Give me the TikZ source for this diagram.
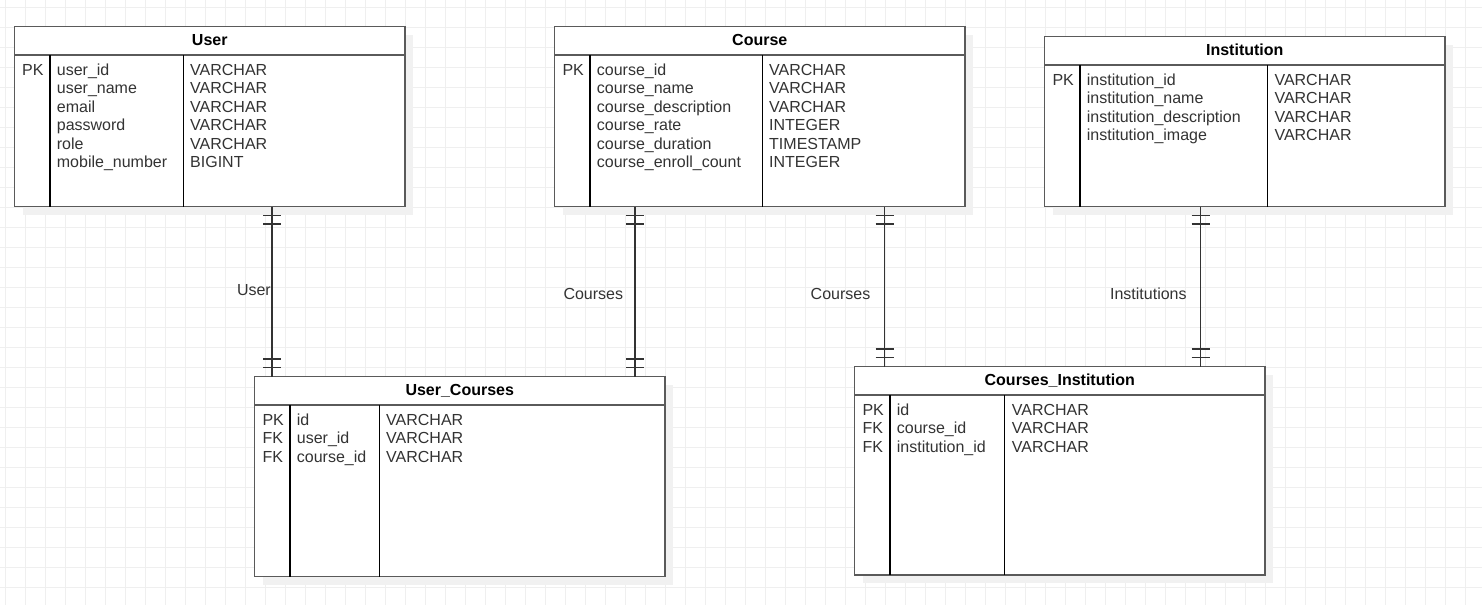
\documentclass[tikz,border=0pt]{standalone}
\usepackage{fontspec}
\setmainfont{Liberation Sans}
\usetikzlibrary{decorations.markings,shadows}
\definecolor{edgegray}{HTML}{5A5A5A}
\definecolor{ink}{HTML}{333333}
\definecolor{gridgray}{HTML}{EFEFEF}
\definecolor{shadegray}{HTML}{F1F1F1}

\begin{document}
\begin{tikzpicture}[x=1pt, y=-1pt,
  tbl/.style={draw=edgegray, line width=1.6pt, fill=white, inner sep=0pt, outer sep=0pt, anchor=north west,
    drop shadow={shadow xshift=8pt, shadow yshift=-8pt, fill=shadegray, opacity=1}},
  head/.style={inner sep=0pt, anchor=base, font=\fontsize{16}{18.5}\selectfont\bfseries},
  field/.style={inner sep=0pt, anchor=base west, text=ink, font=\fontsize{16}{18.5}\selectfont},
  lbl/.style={inner sep=0pt, anchor=base east, text=ink, font=\fontsize{16}{18.5}\selectfont},
  hline/.style={draw=edgegray, line width=1.4pt},
  cline/.style={draw=black, line width=1.1pt},
  gridln/.style={draw=gridgray, line width=1pt},
  rel/.style={draw=ink, line width=1.4pt, postaction={decorate}, decoration={markings,
    mark=at position 9pt with {\draw[line width=1.3pt] (0,-9pt) -- (0,9pt);},
    mark=at position 17.5pt with {\draw[line width=1.3pt] (0,-9pt) -- (0,9pt);},
    mark=at position -9pt with {\draw[line width=1.3pt] (0,-9pt) -- (0,9pt);},
    mark=at position -17.5pt with {\draw[line width=1.3pt] (0,-9pt) -- (0,9pt);}}}]
\useasboundingbox (0,0) rectangle (1482,605);

%grade
\fill[white] (0,0) rectangle (1482,605);
\foreach \gx in {5,25,...,1485} \draw[gridln] (\gx,0) -- (\gx,605);
\foreach \gy in {7,27,...,607} \draw[gridln] (0,\gy) -- (1482,\gy);

%User
\node[tbl, minimum width=390.5pt, minimum height=180pt] (usr) at (14.5,26.5) {};
\node[head] (usrh) at (209.75,45.3) {User};
\draw[hline] (usr.west |- 0,55) -- (usr.east |- 0,55);
\draw[cline] (50,55) -- (50,206.5);
\draw[cline] (183.5,55) -- (183.5,206.5);
\node[field] (usrk) at (22,75) {PK};
\foreach \nm/\ty [count=\i from 0] in {user\_id/VARCHAR, user\_name/VARCHAR, email/VARCHAR,
    password/VARCHAR, role/VARCHAR, mobile\_number/BIGINT}{
  \node[field] (usrn\i) at (56.7,75+18.5*\i) {\nm};
  \node[field] (usrt\i) at (190,75+18.5*\i) {\ty};
}

%Course
\node[tbl, minimum width=410.5pt, minimum height=180pt] (crs) at (554.5,26.5) {};
\node[head] (crsh) at (759.75,45.5) {Course};
\draw[hline] (crs.west |- 0,55) -- (crs.east |- 0,55);
\draw[cline] (590,55) -- (590,206.5);
\draw[cline] (762.3,55) -- (762.3,206.5);
\node[field] (crsk) at (562.3,75) {PK};
\foreach \nm/\ty [count=\i from 0] in {course\_id/VARCHAR, course\_name/VARCHAR,
    course\_description/VARCHAR, course\_rate/INTEGER, course\_duration/TIMESTAMP,
    course\_enroll\_count/INTEGER}{
  \node[field] (crsn\i) at (596.7,75+18.5*\i) {\nm};
  \node[field] (crst\i) at (769,75+18.5*\i) {\ty};
}

%Institution
\node[tbl, minimum width=400.5pt, minimum height=170pt] (ins) at (1044.5,36.5) {};
\node[head] (insh) at (1244.75,55.5) {Institution};
\draw[hline] (ins.west |- 0,65) -- (ins.east |- 0,65);
\draw[cline] (1080,65) -- (1080,206.5);
\draw[cline] (1267.3,65) -- (1267.3,206.5);
\node[field] (insk) at (1052.3,85) {PK};
\foreach \nm/\ty [count=\i from 0] in {institution\_id/VARCHAR, institution\_name/VARCHAR,
    institution\_description/VARCHAR, institution\_image/VARCHAR}{
  \node[field] (insn\i) at (1086.7,85+18.5*\i) {\nm};
  \node[field] (inst\i) at (1274.3,85+18.5*\i) {\ty};
}

%User_Courses
\node[tbl, minimum width=410.5pt, minimum height=200pt] (uc) at (254.5,376.5) {};
\node[head] (uch) at (459.75,395.5) {User\_Courses};
\draw[hline] (uc.west |- 0,405) -- (uc.east |- 0,405);
\draw[cline] (290,405) -- (290,576.5);
\draw[cline] (379.3,405) -- (379.3,576.5);
\foreach \k/\nm [count=\i from 0] in {PK/id, FK/user\_id, FK/course\_id}{
  \node[field] (uck\i) at (262.3,425+18.5*\i) {\k};
  \node[field] (ucn\i) at (296.7,425+18.5*\i) {\nm};
  \node[field] (uct\i) at (386,425+18.5*\i) {VARCHAR};
}

%Courses_Institution
\node[tbl, minimum width=410.5pt, minimum height=208.5pt] (ci) at (854.5,366.5) {};
\node[head] (cih) at (1059.75,385.3) {Courses\_Institution};
\draw[hline] (ci.west |- 0,395) -- (ci.east |- 0,395);
\draw[cline] (890,395) -- (890,575);
\draw[cline] (1004.3,395) -- (1004.3,575);
\foreach \k/\nm [count=\i from 0] in {PK/id, FK/course\_id, FK/institution\_id}{
  \node[field] (cik\i) at (862.3,415+18.5*\i) {\k};
  \node[field] (cin\i) at (896.7,415+18.5*\i) {\nm};
  \node[field] (cit\i) at (1011.7,415+18.5*\i) {VARCHAR};
}

%relacoes
\coordinate (xa) at (272,0);
\coordinate (xb) at (635,0);
\coordinate (xc) at (884.5,0);
\coordinate (xd) at (1200.5,0);
\draw[rel] (usr.south -| xa) -- (uc.north -| xa);
\draw[rel] (crs.south -| xb) -- (uc.north -| xb);
\draw[rel] (crs.south -| xc) -- (ci.north -| xc);
\draw[rel] (ins.south -| xd) -- (ci.north -| xd);
\node[lbl] (lba) at (271,295) {User};
\node[lbl] (lbb) at (623.3,299) {Courses};
\node[lbl] (lbc) at (870.5,299) {Courses};
\node[lbl] (lbd) at (1186.8,299) {Institutions};

\end{tikzpicture}
\end{document}
